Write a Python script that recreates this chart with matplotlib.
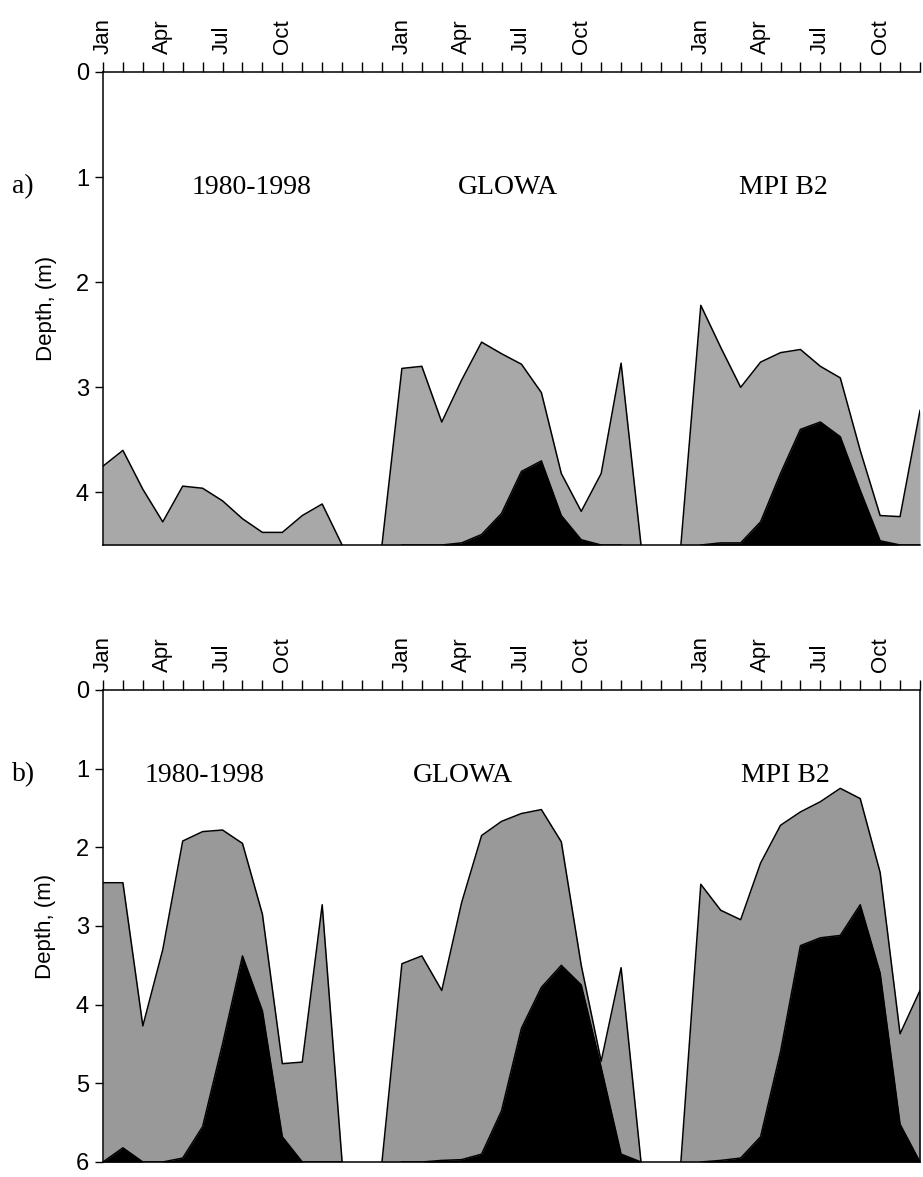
import matplotlib
matplotlib.use("Agg")
import matplotlib.pyplot as plt
import numpy as np

months = ["Jan", "Apr", "Jul", "Oct"]
seg_starts = [0, 15, 30]
scenarios = ["1980-1998", "GLOWA", "MPI B2"]

# Panel a
a_gray = [
    ([0,1,2,3,4,5,6,7,8,9,10,11,12],
     [3.75,3.6,3.97,4.28,3.94,3.96,4.08,4.25,4.38,4.38,4.22,4.11,4.5]),
    ([14,15,16,17,18,19,20,21,22,23,24,25,26,27],
     [4.5,2.82,2.8,3.33,2.93,2.57,2.68,2.78,3.05,3.82,4.18,3.82,2.77,4.5]),
    ([29,30,31,32,33,34,35,36,37,38,39,40,41],
     [4.5,2.22,2.62,3.0,2.76,2.67,2.64,2.8,2.91,3.6,4.22,4.23,3.22]),
]
a_black = [
    ([15,16,17,18,19,20,21,22,23,24,25,26],
     [4.5,4.5,4.5,4.48,4.4,4.2,3.8,3.7,4.22,4.45,4.5,4.5]),
    ([30,31,32,33,34,35,36,37,38,39,40,41],
     [4.5,4.48,4.48,4.28,3.82,3.4,3.33,3.47,3.98,4.46,4.5,4.5]),
]
# Panel b
b_gray = [
    ([0,1,2,3,4,5,6,7,8,9,10,11,12],
     [2.45,2.45,4.27,3.3,1.92,1.8,1.78,1.95,2.85,4.75,4.73,2.73,6.0]),
    ([14,15,16,17,18,19,20,21,22,23,24,25,26,27],
     [6.0,3.48,3.38,3.82,2.7,1.85,1.67,1.57,1.52,1.93,3.5,4.72,3.53,6.0]),
    ([29,30,31,32,33,34,35,36,37,38,39,40,41],
     [6.0,2.47,2.8,2.92,2.2,1.72,1.55,1.42,1.25,1.38,2.32,4.37,3.82]),
]
b_black = [
    ([0,1,2,3,4,5,6,7,8,9,10,11,12],
     [6.0,5.82,6.0,6.0,5.95,5.55,4.5,3.38,4.08,5.68,6.0,6.0,6.0]),
    ([15,16,17,18,19,20,21,22,23,24,25,26,27],
     [6.0,6.0,5.98,5.97,5.9,5.35,4.3,3.78,3.5,3.75,4.8,5.9,6.0]),
    ([30,31,32,33,34,35,36,37,38,39,40,41],
     [6.0,5.98,5.95,5.68,4.6,3.25,3.15,3.12,2.73,3.6,5.52,6.0]),
]

W, H = 923, 1177
fig = plt.figure(figsize=(W/100, H/100), dpi=100)

def make(ax, gray, black, ymax, gcol, label, text_y, text_x):
    for x, y in gray:
        ax.fill_between(x, y, ymax, color=gcol, lw=0)
        ax.plot(x, y, color="black", lw=1.1)
    for x, y in black:
        ax.fill_between(x, y, ymax, color="black", lw=0)
        ax.plot(x, y, color="black", lw=1.1)
    ax.set_xlim(0, 41)
    ax.set_ylim(ymax, 0)
    ax.xaxis.tick_top()
    ax.set_xticks(np.arange(0, 42))
    ticks, labs = [], []
    for s in seg_starts:
        for i, m in enumerate(months):
            ticks.append(s + 3*i); labs.append(m)
    ax.set_xticklabels([labs[ticks.index(t)] if t in ticks else "" for t in range(42)],
                       rotation=90, fontsize=16, family="Liberation Sans")
    ax.tick_params(axis="x", direction="out", length=7, width=1, pad=6)
    ax.tick_params(axis="y", direction="out", length=6, width=1, labelsize=17, pad=4)
    for t in ax.get_yticklabels():
        t.set_family("Liberation Sans")
    ax.set_ylabel("Depth, (m)", fontsize=16, family="Liberation Sans", labelpad=14)
    for sp in ax.spines.values():
        sp.set_linewidth(1.1)
    ax.spines["right"].set_visible(False)
    fig.text(12/W, 1 - text_y/H, label, fontsize=20, family="Liberation Serif",
             va="center")
    for sx, name in zip(text_x, scenarios):
        fig.text(sx/W, 1 - text_y/H, name, fontsize=20, family="Liberation Serif",
                 ha="center", va="center")

ax1 = fig.add_axes([103/W, 1 - 545/H, 817/W, 473/H])
make(ax1, a_gray, a_black, 4.5, "#a8a8a8", "a)", 187, [252, 508, 783])
ax1.set_yticks([0, 1, 2, 3, 4])

ax2 = fig.add_axes([103/W, 1 - 1162/H, 817/W, 472/H])
make(ax2, b_gray, b_black, 6.0, "#999999", "b)", 775, [205, 463, 785])
ax2.set_yticks([0, 1, 2, 3, 4, 5, 6])
ax2.spines["right"].set_visible(True)

fig.savefig("out.png", dpi=100)
